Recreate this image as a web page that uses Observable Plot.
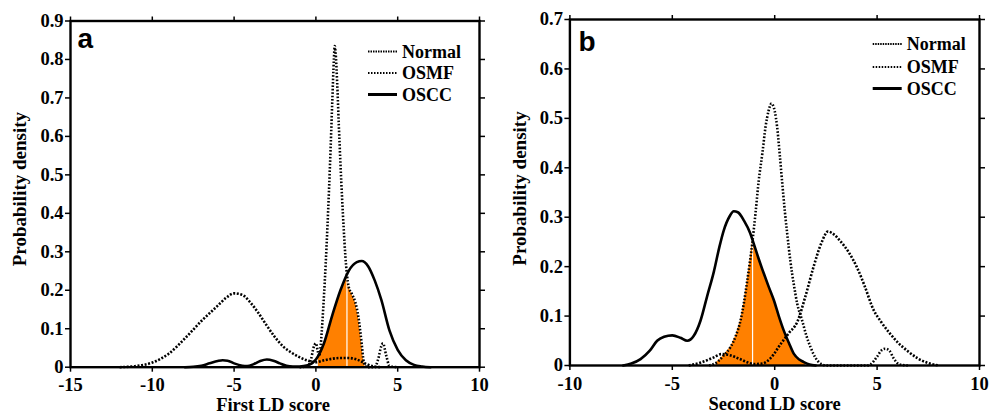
<!DOCTYPE html>
<html><head><meta charset="utf-8">
<script src="https://cdn.jsdelivr.net/npm/d3@7"></script>
<script src="https://cdn.jsdelivr.net/npm/@observablehq/plot@0.6"></script>
<style>
body{margin:0;background:#fff;}
#wrap{position:relative;width:989px;height:417px;overflow:hidden;}
#wrap svg{position:absolute;top:0;}
</style></head><body><div id="wrap"></div>
<script>
// ---------- Panel a (First LD score) ----------
const aXTicks = [-15, -10, -5, 0, 5, 10];
const aYTicks = [0, 0.1, 0.2, 0.3, 0.4, 0.5, 0.6, 0.7, 0.8, 0.9];
const aNormalX = [-12, -11, -10, -9, -8, -7, -6, -5.5, -5, -4.5, -4, -3.5, -3, -2.5, -2, -1.5, -1, -0.5, 0, 0.5, 1, 1.5, 2, 2.5, 3, 3.5, 4];
const aNormalY = [0, 0.003, 0.012, 0.035, 0.075, 0.12, 0.16, 0.18, 0.192, 0.188, 0.168, 0.14, 0.108, 0.078, 0.054, 0.038, 0.026, 0.017, 0.013, 0.018, 0.022, 0.024, 0.024, 0.02, 0.01, 0.002, 0];
const aOsmfX = [-1, -0.5, -0.3, -0.15, 0, 0.1, 0.2, 0.3, 0.4, 0.5, 0.6, 0.7, 0.8, 0.9, 1.0, 1.1, 1.15, 1.2, 1.3, 1.4, 1.5, 1.6, 1.7, 1.8, 1.9, 2.0, 2.2, 2.4, 2.6, 2.8, 2.9, 3.0, 3.2, 3.6, 3.8, 4.0, 4.1, 4.3, 4.5, 5];
const aOsmfY = [0, 0.003, 0.02, 0.05, 0.062, 0.045, 0.028, 0.06, 0.12, 0.19, 0.27, 0.36, 0.46, 0.57, 0.69, 0.8, 0.835, 0.82, 0.74, 0.63, 0.53, 0.44, 0.36, 0.29, 0.24, 0.21, 0.19, 0.17, 0.13, 0.06, 0.02, 0.003, 0, 0, 0.02, 0.055, 0.062, 0.03, 0.003, 0];
const aOsccX = [-8, -7.5, -7, -6.5, -6, -5.7, -5.4, -5, -4.5, -4.2, -3.8, -3.4, -3, -2.6, -2.2, -1.8, -1.4, -1, -0.5, 0, 0.5, 1, 1.5, 2, 2.5, 2.8, 3.2, 3.6, 4, 4.5, 5, 5.5, 6, 6.5, 7];
const aOsccY = [0, 0.001, 0.004, 0.01, 0.016, 0.018, 0.017, 0.01, 0.004, 0.003, 0.008, 0.016, 0.02, 0.017, 0.01, 0.004, 0.002, 0.002, 0.005, 0.02, 0.063, 0.135, 0.2, 0.25, 0.273, 0.276, 0.262, 0.225, 0.175, 0.095, 0.045, 0.018, 0.006, 0.002, 0];
const aOverlapRange = [0.15, 3.0];

// ---------- Panel b (Second LD score) ----------
const bXTicks = [-10, -5, 0, 5, 10];
const bYTicks = [0, 0.1, 0.2, 0.3, 0.4, 0.5, 0.6, 0.7];
const bNormalX = [-4.2, -3.6, -3.0, -2.6, -2.2, -1.7, -1.3, -1.0, -0.6, -0.2, 0.3, 0.7, 1.1, 1.5, 1.9, 2.3, 2.6, 2.9, 3.2, 3.6, 4.0, 4.4, 4.8, 5.2, 5.6, 6.0, 6.5, 7.0, 7.5, 8.0];
const bNormalY = [0, 0.006, 0.016, 0.023, 0.021, 0.013, 0.006, 0.003, 0.004, 0.015, 0.044, 0.066, 0.088, 0.14, 0.2, 0.25, 0.271, 0.265, 0.252, 0.23, 0.2, 0.16, 0.115, 0.088, 0.066, 0.047, 0.029, 0.014, 0.005, 0];
const bOsmfX = [-3.2, -2.8, -2.5, -2.16, -1.9, -1.67, -1.5, -1.34, -1.1, -0.94, -0.78, -0.6, -0.45, -0.3, -0.16, 0, 0.12, 0.25, 0.37, 0.5, 0.61, 0.77, 0.93, 1.1, 1.34, 1.55, 1.75, 2.0, 2.2, 2.5, 4.5, 4.7, 5.0, 5.2, 5.4, 5.6, 5.8, 6.1, 6.5];
const bOsmfY = [0, 0.007, 0.02, 0.037, 0.06, 0.091, 0.128, 0.172, 0.246, 0.307, 0.374, 0.43, 0.482, 0.515, 0.53, 0.515, 0.482, 0.425, 0.368, 0.31, 0.267, 0.21, 0.165, 0.125, 0.091, 0.06, 0.037, 0.015, 0.005, 0, 0, 0.003, 0.018, 0.03, 0.034, 0.03, 0.015, 0.002, 0];
const bOsccX = [-7.4, -7, -6.55, -6.1, -5.74, -5.4, -5.0, -4.6, -4.27, -3.95, -3.62, -3.3, -2.97, -2.7, -2.49, -2.2, -2.0, -1.8, -1.5, -1.2, -1.02, -0.8, -0.53, -0.3, -0.04, 0.2, 0.44, 0.7, 0.93, 1.2, 1.42, 1.7, 2.0];
const bOsccY = [0, 0.004, 0.013, 0.03, 0.05, 0.058, 0.061, 0.056, 0.05, 0.06, 0.091, 0.14, 0.19, 0.24, 0.273, 0.302, 0.312, 0.31, 0.293, 0.268, 0.246, 0.218, 0.186, 0.16, 0.132, 0.1, 0.071, 0.045, 0.024, 0.012, 0.007, 0.002, 0];
const bOverlapRange = [-2.85, 1.5];

const seriesNames = ["Normal", "OSMF", "OSCC"];

const SERIF = "'Liberation Serif','Times New Roman',serif";
const SANS = "'Liberation Sans',Arial,sans-serif";
const ORANGE = "#ff8000";
const styles = {
  Normal: {strokeWidth: 2.6, dash: "2,1.6"},
  OSMF: {strokeWidth: 2.6, dash: "1.6,1.8"},
  OSCC: {strokeWidth: 2.6, dash: null}
};

function zip(xs, ys) { return xs.map((x, i) => ({x, y: ys[i]})); }
function interp(xs, ys, x) {
  if (x <= xs[0] || x >= xs[xs.length - 1]) return 0;
  const i = d3.bisectRight(xs, x);
  const x0 = xs[i - 1], x1 = xs[i];
  const t = (x - x0) / (x1 - x0);
  return ys[i - 1] + t * (ys[i] - ys[i - 1]);
}

function panel(cfg) {
  const normal = zip(cfg.nX, cfg.nY), osmf = zip(cfg.mX, cfg.mY), oscc = zip(cfg.cX, cfg.cY);
  const overlap = [];
  const [r0, r1] = cfg.range;
  for (let k = 0; k <= 300; k++) {
    const x = r0 + (r1 - r0) * k / 300;
    overlap.push({x, y: Math.min(interp(cfg.mX, cfg.mY, x), interp(cfg.cX, cfg.cY, x))});
  }
  const top = overlap.reduce((a, b) => (b.y > a.y ? b : a));
  const curve = "monotone-x";
  const fmt = d => (d === 0 ? "0" : String(+d.toFixed(1)));
  const tickText = {fontSize: 18.5, fontWeight: "bold", fontFamily: SERIF};
  const p = Plot.plot({
    width: cfg.width, height: 417,
    marginLeft: cfg.ml, marginRight: cfg.mr, marginTop: cfg.mt, marginBottom: cfg.mb,
    x: {domain: cfg.xDomain},
    y: {domain: cfg.yDomain},
    style: {fontFamily: SERIF, fontSize: "18px", fontWeight: "bold", color: "black", background: "white", overflow: "visible"},
    marks: [
      Plot.areaY(overlap, {x: "x", y: "y", fill: ORANGE, curve: "linear"}),
      Plot.ruleX([top], {x: "x", y1: 0, y2: "y", stroke: "white", strokeWidth: 1.2}),
      Plot.line(normal, {x: "x", y: "y", stroke: "black", strokeWidth: styles.Normal.strokeWidth, strokeDasharray: styles.Normal.dash, strokeLinecap: "butt", curve}),
      Plot.line(osmf, {x: "x", y: "y", stroke: "black", strokeWidth: styles.OSMF.strokeWidth, strokeDasharray: styles.OSMF.dash, strokeLinecap: "butt", curve}),
      Plot.line(oscc, {x: "x", y: "y", stroke: "black", strokeWidth: styles.OSCC.strokeWidth, curve}),
      Plot.frame({stroke: "black", strokeWidth: 2.4}),
      Plot.axisX({ticks: cfg.xTicks, tickSize: 5, tickPadding: 6, tickFormat: d => String(d), label: null, strokeWidth: 1.5, ...tickText}),
      Plot.axisX({anchor: "top", ticks: cfg.xTicks, tickSize: 5, tickFormat: () => "", label: null, strokeWidth: 1.5}),
      Plot.axisY({ticks: cfg.yTicks, tickSize: 5, tickPadding: 2, tickFormat: fmt, label: null, strokeWidth: 1.5, ...tickText}),
      Plot.axisY({anchor: "right", ticks: cfg.yTicks, tickSize: 5, tickFormat: () => "", label: null, strokeWidth: 1.5}),
      Plot.text([cfg.yLabel], {frameAnchor: "left", dx: cfg.yLabelDx, dy: cfg.yLabelDy, rotate: -90, textAnchor: "middle", text: d => d, fontSize: 19, fontWeight: "bold", fontFamily: SERIF}),
      Plot.text([cfg.xLabel], {frameAnchor: "bottom", dx: cfg.xLabelDx, dy: 44, lineAnchor: "bottom", textAnchor: "middle", text: d => d, fontSize: 18.5, fontWeight: "bold", fontFamily: SERIF}),
      Plot.text([cfg.letter], {frameAnchor: "top-left", dx: cfg.letterDx, dy: cfg.letterDy, lineAnchor: "bottom", textAnchor: "start", text: d => d, fontSize: 28, fontWeight: "bold", fontFamily: SANS})
    ]
  });
  // legend
  const svg = d3.select(p);
  const g = svg.append("g");
  seriesNames.forEach((name, i) => {
    const y = cfg.legY[i];
    g.append("line").attr("x1", cfg.legX).attr("x2", cfg.legX + 29).attr("y1", y).attr("y2", y)
      .attr("stroke", "black").attr("stroke-width", name === "OSCC" ? 3 : 2.2)
      .attr("stroke-dasharray", name === "Normal" ? "1.5,1" : name === "OSMF" ? "1.5,1.5" : null);
    g.append("text").attr("x", cfg.legX + 34).attr("y", y + 6).text(name)
      .attr("text-anchor", "start")
      .attr("font-family", SERIF).attr("font-weight", "bold").attr("font-size", 18).attr("fill", "black");
  });
  p.style.left = cfg.left + "px";
  return p;
}

const wrap = document.getElementById("wrap");
wrap.appendChild(panel({
  left: 0, width: 494, ml: 70, mr: 15, mt: 20.5, mb: 50.3,
  xDomain: [-15, 10], yDomain: [0, 0.9], xTicks: aXTicks, yTicks: aYTicks,
  nX: aNormalX, nY: aNormalY, mX: aOsmfX, mY: aOsmfY, cX: aOsccX, cY: aOsccY, range: aOverlapRange,
  yLabel: "Probability density", yLabelDx: -51, yLabelDy: -5,
  xLabel: "First LD score", xLabelDx: -2,
  letter: "a", letterDx: 7, letterDy: 27,
  legX: 368, legY: [51.5, 73, 94.5]
}));
wrap.appendChild(panel({
  left: 494, width: 495, ml: 75.4, mr: 10, mt: 19, mb: 52,
  xDomain: [-10, 10], yDomain: [0, 0.7], xTicks: bXTicks, yTicks: bYTicks,
  nX: bNormalX, nY: bNormalY, mX: bOsmfX, mY: bOsmfY, cX: bOsccX, cY: bOsccY, range: bOverlapRange,
  yLabel: "Probability density", yLabelDx: -50, yLabelDy: -4,
  xLabel: "Second LD score", xLabelDx: 0,
  letter: "b", letterDx: 8.6, letterDy: 31,
  legX: 872.7 - 494, legY: [44, 67, 88.5]
}));
</script></body></html>
